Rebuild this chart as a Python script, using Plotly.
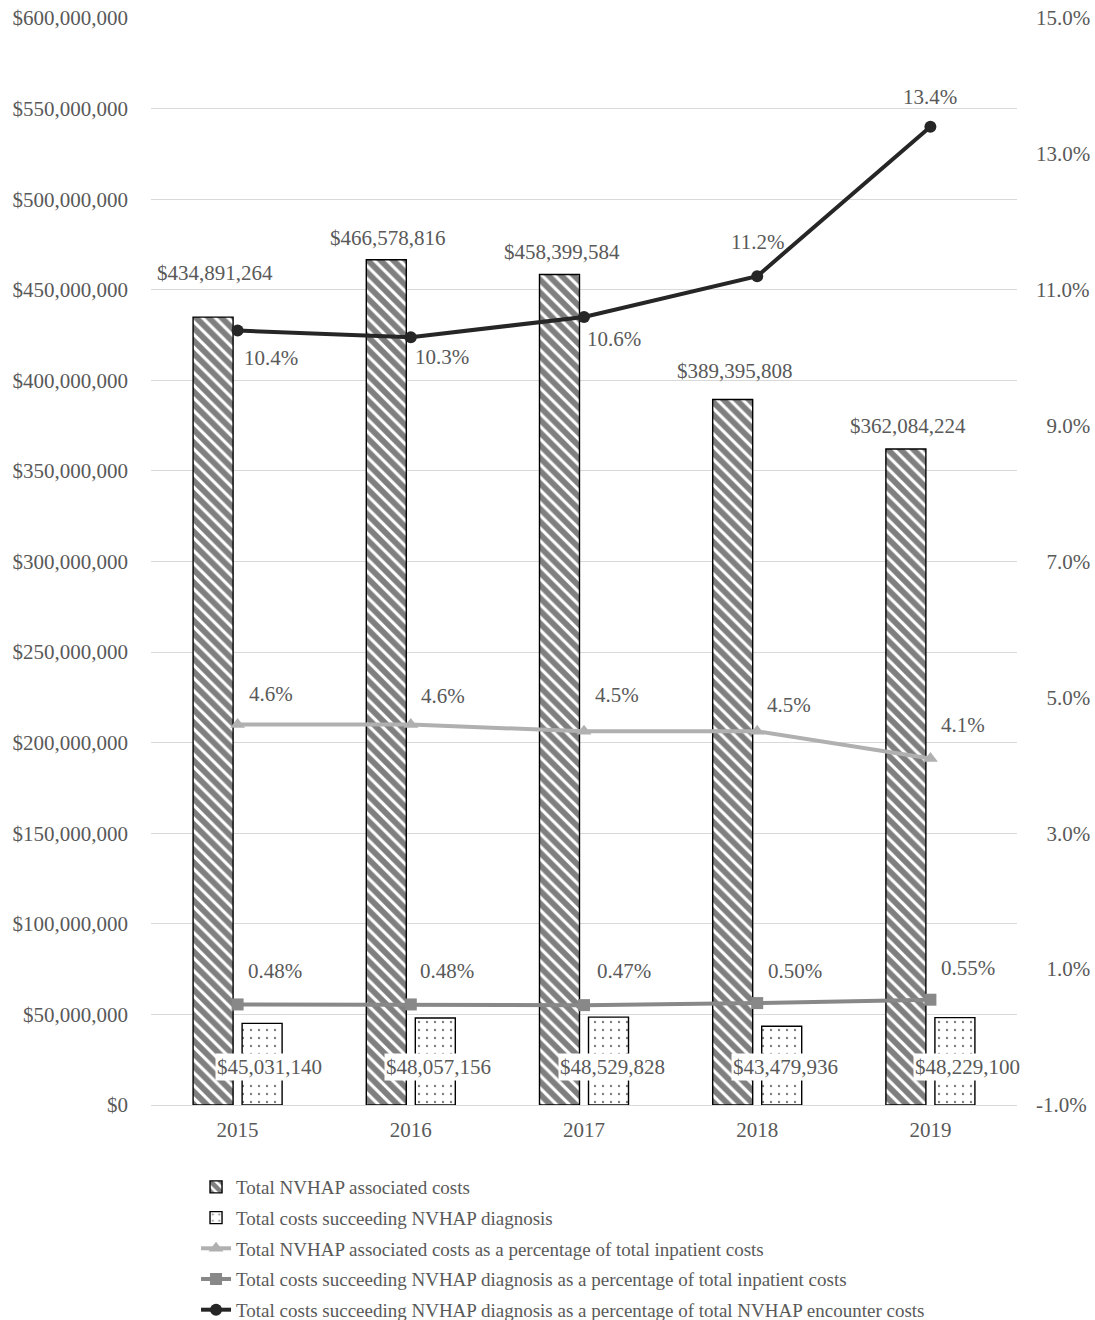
import plotly.graph_objects as go

years = ["2015", "2016", "2017", "2018", "2019"]
assoc_costs = [434891264, 466578816, 458399584, 389395808, 362084224]
succ_costs = [45031140, 48057156, 48529828, 43479936, 48229100]
pct_assoc_inpatient = [4.6, 4.6, 4.5, 4.5, 4.1]
pct_succ_inpatient = [0.48, 0.48, 0.47, 0.50, 0.55]
pct_succ_encounter = [10.4, 10.3, 10.6, 11.2, 13.4]

left_ticks = list(range(0, 600000001, 50000000))
right_ticks = [-1, 1, 3, 5, 7, 9, 11, 13, 15]

names = [
    "Total NVHAP associated costs",
    "Total costs succeeding NVHAP diagnosis",
    "Total NVHAP associated costs as a percentage of total inpatient costs",
    "Total costs succeeding NVHAP diagnosis as a percentage of total inpatient costs",
    "Total costs succeeding NVHAP diagnosis as a percentage of total NVHAP encounter costs",
]

FONT = "Liberation Serif"
TXT = "#595959"
FS = 21
LFS = 19

xpos = list(range(len(years)))

fig = go.Figure()
fig.add_trace(go.Bar(
    x=xpos, y=assoc_costs, name=names[0], legendgroup="g1",
    marker=dict(color="white", line=dict(color="black", width=1.4),
                pattern=dict(shape="\\", fgcolor="black", bgcolor="white", size=9, solidity=0.65)),
))
fig.add_trace(go.Bar(
    x=xpos, y=succ_costs, name=names[1], legendgroup="g2",
    marker=dict(color="white", line=dict(color="black", width=1.4),
                pattern=dict(shape=".", fgcolor="black", bgcolor="white", size=8, solidity=0.07)),
))
fig.add_trace(go.Scatter(
    x=xpos, y=pct_assoc_inpatient, name=names[2], yaxis="y2", mode="lines+markers", legendgroup="g3",
    line=dict(color="#b0b0b0", width=4), marker=dict(symbol="triangle-up", size=13, color="#b0b0b0"),
))
fig.add_trace(go.Scatter(
    x=xpos, y=pct_succ_inpatient, name=names[3], yaxis="y2", mode="lines+markers", legendgroup="g4",
    line=dict(color="#888888", width=4), marker=dict(symbol="square", size=12, color="#888888"),
))
fig.add_trace(go.Scatter(
    x=xpos, y=pct_succ_encounter, name=names[4], yaxis="y2", mode="lines+markers", legendgroup="g5",
    line=dict(color="#262626", width=4), marker=dict(symbol="circle", size=12, color="#262626"),
))

ann = []
bar_off = 24.5
assoc_dy = [44, 22, 23, 29, 23]
for i, v in enumerate(assoc_costs):
    ann.append(dict(x=xpos[i], y=v, xref="x", yref="y", text=f"${v:,.0f}", showarrow=False,
                    xshift=-bar_off + 2, yshift=assoc_dy[i], font=dict(family=FONT, size=FS, color=TXT)))
succ_dx = [7, 3, 4, 4, 13]
for i, v in enumerate(succ_costs):
    ann.append(dict(x=xpos[i], y=0, xref="x", yref="y", text=f"${v:,.0f}", showarrow=False,
                    xshift=bar_off + succ_dx[i], yshift=38, bgcolor="white", borderpad=1,
                    font=dict(family=FONT, size=FS, color=TXT)))
enc_off = [(33, -27), (31, -20), (30, -22), (0, 34), (0, 30)]
for i, v in enumerate(pct_succ_encounter):
    ann.append(dict(x=xpos[i], y=v, xref="x", yref="y2", text=f"{v:.1f}%", showarrow=False,
                    xshift=enc_off[i][0], yshift=enc_off[i][1], font=dict(family=FONT, size=FS, color=TXT)))
ass_off = [(33, 31), (32, 29), (33, 36), (32, 26), (33, 34)]
for i, v in enumerate(pct_assoc_inpatient):
    ann.append(dict(x=xpos[i], y=v, xref="x", yref="y2", text=f"{v:.1f}%", showarrow=False,
                    xshift=ass_off[i][0], yshift=ass_off[i][1], font=dict(family=FONT, size=FS, color=TXT)))
sq_off = [(37, 33), (36, 33), (40, 34), (38, 32), (38, 32)]
for i, v in enumerate(pct_succ_inpatient):
    ann.append(dict(x=xpos[i], y=v, xref="x", yref="y2", text=f"{v:.2f}%", showarrow=False,
                    xshift=sq_off[i][0], yshift=sq_off[i][1], font=dict(family=FONT, size=FS, color=TXT)))

right_text = [("\u2007" if 0 <= t < 10 else "") + f"{t:.1f}%" for t in right_ticks]

fig.update_layout(
    width=1095, height=1320,
    margin=dict(l=151, r=78, t=18, b=215, autoexpand=False),
    paper_bgcolor="white", plot_bgcolor="white",
    barmode="group", bargap=0.434, bargroupgap=0.184,
    font=dict(family=FONT, size=FS, color=TXT),
    xaxis=dict(range=[-0.5, len(years) - 0.5], tickvals=xpos, ticktext=years,
               showgrid=False, zeroline=False, showline=True, linecolor="#d9d9d9", linewidth=1,
               ticks="", ticklabelstandoff=6, tickfont=dict(family=FONT, size=FS, color=TXT)),
    yaxis=dict(range=[0, 600000000], tickvals=left_ticks,
               ticktext=[f"${t:,.0f}" for t in left_ticks],
               showgrid=True, gridcolor="#d9d9d9", gridwidth=1, zeroline=False,
               ticks="", ticklabelstandoff=22, tickfont=dict(family=FONT, size=FS, color=TXT)),
    yaxis2=dict(range=[-1, 15], overlaying="y", side="right", tickvals=right_ticks, ticktext=right_text,
                showgrid=False, zeroline=False, ticks="", ticklabelstandoff=18,
                tickfont=dict(family=FONT, size=FS, color=TXT)),
    legend=dict(orientation="v", x=0.052, y=-0.058, xanchor="left", yanchor="top", tracegroupgap=3,
                font=dict(family=FONT, size=LFS, color=TXT), traceorder="grouped", bgcolor="rgba(0,0,0,0)"),
    annotations=ann,
    showlegend=True,
)

fig.write_html("out.html")
